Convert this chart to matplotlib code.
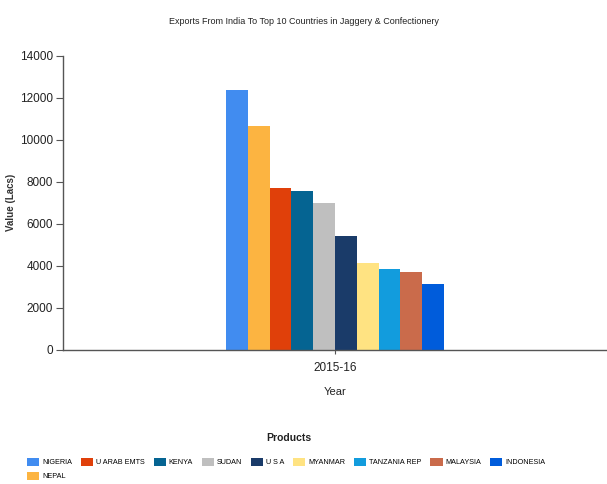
import matplotlib
matplotlib.use("Agg")
import matplotlib.pyplot as plt
from matplotlib.patches import Patch

# data (bar order as drawn)
countries = ["NIGERIA", "NEPAL", "U ARAB EMTS", "KENYA", "SUDAN", "U S A",
             "MYANMAR", "TANZANIA REP", "MALAYSIA", "INDONESIA"]
values = [12350, 10670, 7690, 7560, 7010, 5440, 4150, 3840, 3730, 3130]
colors = ["#418CF0", "#FCB441", "#E0400A", "#056492", "#BFBFBF", "#1A3B69",
          "#FFE382", "#129CDD", "#CA6B4B", "#005CDB"]
year = "2015-16"

plt.rcParams["font.family"] = ["Liberation Sans", "DejaVu Sans"]

fig = plt.figure(figsize=(6.07, 4.84), dpi=100)
ax = fig.add_axes([0.1038, 0.2769, 0.8962, 0.608])

n = len(values)
bw = 0.04
for i, (v, c) in enumerate(zip(values, colors)):
    ax.bar((i - (n - 1) / 2) * bw, v, width=bw, color=c, edgecolor="none")

ax.set_xlim(-0.5, 0.5)
ax.set_ylim(0, 14000)
ax.set_yticks(range(0, 14001, 2000))
ax.set_xticks([0])
ax.set_xticklabels([year])

for s in ["top", "right"]:
    ax.spines[s].set_visible(False)
for s in ["left", "bottom"]:
    ax.spines[s].set_color("#555555")
    ax.spines[s].set_linewidth(1)
ax.tick_params(axis="y", length=5, color="#555555", labelsize=8.5, pad=2,
               labelcolor="#222222")
ax.tick_params(axis="x", length=3, color="#555555", labelsize=8.5, pad=6,
               labelcolor="#222222")

ax.set_xlabel("Year", fontsize=8, color="#222222", labelpad=9)
ax.set_ylabel("Value (Lacs)", fontsize=7, color="#333333",
              fontweight="bold")
ax.yaxis.set_label_coords(-0.087, 0.5)

fig.suptitle("Exports From India To Top 10 Countries in Jaggery & Confectionery",
             fontsize=6.5, y=0.965, color="#222222")

# legend title drawn separately to get the wider gap
fig.text(0.475, 1 - 438 / 484, "Products", fontsize=7.5, fontweight="bold",
         ha="center", va="center", color="#222222")

# legend (column-major fill gives NIGERIA row with NEPAL below)
handles = [Patch(facecolor=c, edgecolor="none") for c in colors]
leg = fig.legend(handles, countries, ncol=9, loc="upper left",
                 bbox_to_anchor=(0.04, 1 - 455 / 484), frameon=False,
                 fontsize=5.2, handlelength=1.7, handleheight=1.25,
                 handletextpad=0.4, columnspacing=1.2, labelspacing=0.8,
                 borderaxespad=0)

fig.savefig("out.png", dpi=100)
